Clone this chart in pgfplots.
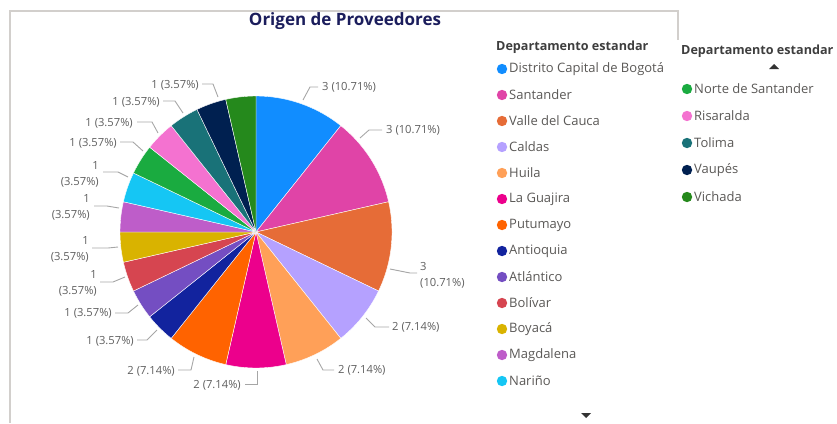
\documentclass[border=0pt]{standalone}
\usepackage{pgfplots}
\pgfplotsset{compat=1.18}
\usepackage{fontspec}
\setmainfont{Open Sans}

% Power BI palette
\definecolor{sBogota}{HTML}{118DFF}
\definecolor{sSantander}{HTML}{E044A7}
\definecolor{sValle}{HTML}{E66C37}
\definecolor{sCaldas}{HTML}{B5A1FF}
\definecolor{sHuila}{HTML}{FFA058}
\definecolor{sGuajira}{HTML}{EC008C}
\definecolor{sPutumayo}{HTML}{FF6300}
\definecolor{sAntioquia}{HTML}{12239E}
\definecolor{sAtlantico}{HTML}{744EC2}
\definecolor{sBolivar}{HTML}{D64550}
\definecolor{sBoyaca}{HTML}{D9B300}
\definecolor{sMagdalena}{HTML}{BE5DC9}
\definecolor{sNarino}{HTML}{15C6F4}
\definecolor{sNorte}{HTML}{1AAB40}
\definecolor{sRisaralda}{HTML}{F472D0}
\definecolor{sTolima}{HTML}{197278}
\definecolor{sVaupes}{HTML}{002050}
\definecolor{sVichada}{HTML}{25891C}
\definecolor{lblgray}{HTML}{5F5F5F}
\definecolor{leadgray}{HTML}{A6A6A6}
\definecolor{leggray}{HTML}{5A5856}
\definecolor{legtitle}{HTML}{3E3E3E}
\definecolor{titlenavy}{HTML}{1B1D5C}
\definecolor{framegray}{HTML}{D2CFCC}

% pie centre, radius, total count
\def\cx{256}\def\cy{232}\def\rr{136}\def\total{28}
\def\cum{0}
% one slice per call: count, colour
\newcommand\slice[2]{%
  \pgfmathsetmacro\aa{90-(\cum+#1)*360/\total}%
  \pgfmathsetmacro\bb{90-\cum*360/\total}%
  \edef\doslice{\noexpand\addplot[fill=#2, draw=white, line width=0.4pt,
      domain=\aa:\bb, samples=40, variable=\noexpand\t]
      ({\cx+\rr*cos(\noexpand\t)}, {\cy-\rr*sin(\noexpand\t)})
      -- (axis cs:\cx,\cy) -- cycle;}%
  \doslice
  \pgfmathsetmacro\cum{\cum+#1}%
}
\newcommand\lbl[3]{\node[anchor=#1, text=lblgray, font=\fontsize{11.2}{15}\selectfont, inner sep=0pt] at #2 {#3};}
\newcommand\lbltwo[4]{\node[anchor=#1, text=lblgray, font=\fontsize{11.2}{16}\selectfont, inner sep=0pt, align=#2] at #3 {#4};}
% legend entry: dot x, y, colour, name
\newcommand\legent[4]{%
  \fill[#3] (axis cs:#1,#2) circle[radius=5.2pt];
  \node[anchor=west, text=leggray, font=\fontsize{13}{15}\selectfont, inner sep=0pt] at (axis cs:#1+7,#2) {#4};}

\begin{document}
\begin{tikzpicture}[x=1pt,y=1pt]
\useasboundingbox (0,0) rectangle (837,423);
\begin{axis}[at={(0,0)}, anchor=south west, scale only axis,
    width=837pt, height=423pt,
    xmin=0, xmax=837, ymin=0, ymax=423, y dir=reverse,
    hide axis, clip=false]

% frame of the visual
\draw[framegray, line width=1.6pt] (axis cs:10,423) -- (axis cs:10,11) -- (axis cs:678,11) -- (axis cs:678,40);

\node[text=titlenavy, font=\bfseries\fontsize{17}{19}\selectfont] at (axis cs:345,21) {Origen de Proveedores};

% slices, clockwise from 12 o'clock
\slice{3}{sBogota}
\slice{3}{sSantander}
\slice{3}{sValle}
\slice{2}{sCaldas}
\slice{2}{sHuila}
\slice{2}{sGuajira}
\slice{2}{sPutumayo}
\slice{1}{sAntioquia}
\slice{1}{sAtlantico}
\slice{1}{sBolivar}
\slice{1}{sBoyaca}
\slice{1}{sMagdalena}
\slice{1}{sNarino}
\slice{1}{sNorte}
\slice{1}{sRisaralda}
\slice{1}{sTolima}
\slice{1}{sVaupes}
\slice{1}{sVichada}

% leader lines
\begin{scope}[leadgray, line width=0.9pt]
\draw (axis cs:303,100) -- (axis cs:310,87) -- (axis cs:318,87);
\draw (axis cs:360,138) -- (axis cs:369,130) -- (axis cs:382,130);
\draw (axis cs:390,269) -- (axis cs:410,273) -- (axis cs:417,273);
\draw (axis cs:366,318) -- (axis cs:375,327) -- (axis cs:389,327);
\draw (axis cs:317,359) -- (axis cs:323,370) -- (axis cs:334,370);
\draw (axis cs:257,371) -- (axis cs:257,384) -- (axis cs:245,384);
\draw (axis cs:194,357) -- (axis cs:191,370) -- (axis cs:178,370);
\draw (axis cs:157,330) -- (axis cs:147,340) -- (axis cs:137,340);
\draw (axis cs:138,305) -- (axis cs:128,313) -- (axis cs:115,313);
\draw (axis cs:125,277) -- (axis cs:113,282) -- (axis cs:100,282);
\draw (axis cs:118,247) -- (axis cs:108,248) -- (axis cs:92,248);
\draw (axis cs:119,208) -- (axis cs:107,206) -- (axis cs:94,206);
\draw (axis cs:128,177) -- (axis cs:118,172) -- (axis cs:103,172);
\draw (axis cs:143,151) -- (axis cs:133,142) -- (axis cs:120,142);
\draw (axis cs:158,133) -- (axis cs:152,122) -- (axis cs:137,122);
\draw (axis cs:183,113) -- (axis cs:175,101) -- (axis cs:163,101);
\draw (axis cs:218,97) -- (axis cs:213,84) -- (axis cs:202,84);
\end{scope}

% data labels
\lbl{west}{(axis cs:322,87)}{3 (10.71\%)}
\lbl{west}{(axis cs:386,130)}{3 (10.71\%)}
\lbltwo{west}{left}{(axis cs:420,275)}{3\\(10.71\%)}
\lbl{west}{(axis cs:392,327)}{2 (7.14\%)}
\lbl{west}{(axis cs:338,370)}{2 (7.14\%)}
\lbl{east}{(axis cs:241,385)}{2 (7.14\%)}
\lbl{east}{(axis cs:175,371)}{2 (7.14\%)}
\lbl{east}{(axis cs:134,341)}{1 (3.57\%)}
\lbl{east}{(axis cs:112,313)}{1 (3.57\%)}
\lbltwo{east}{right}{(axis cs:97,283)}{1\\(3.57\%)}
\lbltwo{east}{right}{(axis cs:89,249)}{1\\(3.57\%)}
\lbltwo{east}{right}{(axis cs:90,207)}{1\\(3.57\%)}
\lbltwo{east}{right}{(axis cs:99,174)}{1\\(3.57\%)}
\lbl{east}{(axis cs:117,143)}{1 (3.57\%)}
\lbl{east}{(axis cs:133,123)}{1 (3.57\%)}
\lbl{east}{(axis cs:160,102)}{1 (3.57\%)}
\lbl{east}{(axis cs:199,85)}{1 (3.57\%)}

% legend, first column
\node[anchor=west, text=legtitle, font=\bfseries\fontsize{12.6}{14}\selectfont, inner sep=0pt] at (axis cs:496,47) {Departamento estandar};
\legent{502}{69}{sBogota}{Distrito Capital de Bogotá}
\legent{502}{95}{sSantander}{Santander}
\legent{502}{121}{sValle}{Valle del Cauca}
\legent{502}{147}{sCaldas}{Caldas}
\legent{502}{173}{sHuila}{Huila}
\legent{502}{199}{sGuajira}{La Guajira}
\legent{502}{225}{sPutumayo}{Putumayo}
\legent{502}{251}{sAntioquia}{Antioquia}
\legent{502}{277}{sAtlantico}{Atlántico}
\legent{502}{303}{sBolivar}{Bolívar}
\legent{502}{329}{sBoyaca}{Boyacá}
\legent{502}{355}{sMagdalena}{Magdalena}
\legent{502}{381}{sNarino}{Nariño}
\fill[black!80] (axis cs:581,413) -- (axis cs:591,413) -- (axis cs:586,418) -- cycle;

% legend, second column
\node[anchor=west, text=legtitle, font=\bfseries\fontsize{12.6}{14}\selectfont, inner sep=0pt] at (axis cs:681,51) {Departamento estandar};
\fill[black!80] (axis cs:769,69) -- (axis cs:779,69) -- (axis cs:774,64) -- cycle;
\legent{687}{89}{sNorte}{Norte de Santander}
\legent{687}{116}{sRisaralda}{Risaralda}
\legent{687}{143}{sTolima}{Tolima}
\legent{687}{170}{sVaupes}{Vaupés}
\legent{687}{197}{sVichada}{Vichada}
\end{axis}
\end{tikzpicture}
\end{document}
